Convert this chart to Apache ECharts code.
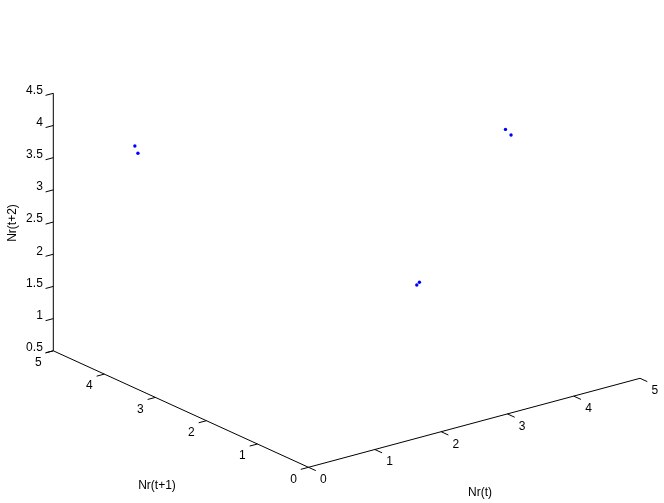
<!DOCTYPE html>
<html>
<head>
<meta charset="utf-8">
<script src="https://cdn.jsdelivr.net/npm/echarts@6/dist/echarts.min.js"></script>
<style>
html,body{margin:0;padding:0;background:#fff;}
#chart{width:664px;height:503px;}
</style>
</head>
<body>
<div id="chart"></div>
<script>
// ---- data ----
const nrT  = [0.83, 0.83, 4.46, 4.42, 3.61, 3.64];   // Nr(t)
const nrT1 = [4.48, 4.42, 3.62, 3.62, 0.83, 0.76];   // Nr(t+1)
const nrT2 = [3.64, 3.55, 0.83, 0.80, 4.45, 4.38];   // Nr(t+2)

const xTicks = [0, 1, 2, 3, 4, 5];
const yTicks = [0, 1, 2, 3, 4, 5];
const zTicks = [0.5, 1, 1.5, 2, 2.5, 3, 3.5, 4, 4.5];
const xTickLabels = ['0', '1', '2', '3', '4', '5'];
const yTickLabels = ['0', '1', '2', '3', '4', '5'];
const zTickLabels = ['0.5', '1', '1.5', '2', '2.5', '3', '3.5', '4', '4.5'];
const xRange = [0, 5];
const yRange = [0, 5];
const zRange = [0.5, 4.5];
const axisTitles = ['Nr(t)', 'Nr(t+1)', 'Nr(t+2)'];

// ---- projection of the 3D box (MATLAB-like default view) ----
const O = [308.5, 467.3];          // screen position of (xmin, ymin, zmin)
const EX = [331.5, -89.0];         // full x range
const EY = [-255.2, -116.5];       // full y range
const EZ = [0, -257.5];            // full z range
function proj(x, y, z) {
  const fx = (x - xRange[0]) / (xRange[1] - xRange[0]);
  const fy = (y - yRange[0]) / (yRange[1] - yRange[0]);
  const fz = (z - zRange[0]) / (zRange[1] - zRange[0]);
  return [O[0] + fx * EX[0] + fy * EY[0] + fz * EZ[0],
          O[1] + fx * EX[1] + fy * EY[1] + fz * EZ[1]];
}
function unit(v){ const l = Math.hypot(v[0], v[1]); return [v[0]/l, v[1]/l]; }
const TICK = 8;
const FONT = '12px "Liberation Sans", Arial, sans-serif';
const ux = unit(EX), uy = unit(EY);

// tick rows: [axis, value, labelIndex]
const tickRows = [];
xTicks.forEach((v, i) => tickRows.push([0, v, i]));
yTicks.forEach((v, i) => tickRows.push([1, v, i]));
zTicks.forEach((v, i) => tickRows.push([2, v, i]));

const points = nrT.map((v, i) => [v, nrT1[i], nrT2[i]]);

const chart = echarts.init(document.getElementById('chart'), null, {renderer: 'canvas'});
chart.setOption({
  backgroundColor: '#ffffff',
  animation: false,
  series: [
    {
      type: 'custom',
      coordinateSystem: 'none',
      silent: true,
      data: [[0], [1], [2]],
      renderItem: function (params, api) {
        const a = api.value(0);
        let p1, p2, title;
        if (a === 0) {
          p1 = proj(xRange[0], yRange[0], zRange[0]); p2 = proj(xRange[1], yRange[0], zRange[0]);
          title = {type: 'text', style: {text: axisTitles[0], x: 480, y: 493, align: 'center', verticalAlign: 'middle', font: FONT, fill: '#000'}};
        } else if (a === 1) {
          p1 = proj(xRange[0], yRange[0], zRange[0]); p2 = proj(xRange[0], yRange[1], zRange[0]);
          title = {type: 'text', style: {text: axisTitles[1], x: 157, y: 486, align: 'center', verticalAlign: 'middle', font: FONT, fill: '#000'}};
        } else {
          p1 = proj(xRange[0], yRange[1], zRange[0]); p2 = proj(xRange[0], yRange[1], zRange[1]);
          title = {type: 'text', x: 12.5, y: 223, rotation: Math.PI / 2,
                   style: {text: axisTitles[2], x: 0, y: 0, align: 'center', verticalAlign: 'middle', font: FONT, fill: '#000'}};
        }
        return {type: 'group', children: [
          {type: 'line', shape: {x1: p1[0], y1: p1[1], x2: p2[0], y2: p2[1]}, style: {stroke: '#000', lineWidth: 1}},
          title
        ]};
      }
    },
    {
      type: 'custom',
      coordinateSystem: 'none',
      silent: true,
      data: tickRows,
      renderItem: function (params, api) {
        const a = api.value(0), v = api.value(1), li = api.value(2);
        let base, dir, label, tx, ty, align;
        if (a === 0) {
          base = proj(v, yRange[0], zRange[0]);
          dir = [-uy[0], -uy[1]];
          label = xTickLabels[li];
          tx = base[0] + 14.8; ty = base[1] + 12.5; align = 'center';
        } else if (a === 1) {
          base = proj(xRange[0], v, zRange[0]);
          dir = [-ux[0], -ux[1]];
          label = yTickLabels[li];
          tx = base[0] - 15; ty = base[1] + 12; align = 'center';
        } else {
          base = proj(xRange[0], yRange[1], v);
          dir = [-ux[0], -ux[1]];
          label = zTickLabels[li];
          tx = base[0] - 10.5; ty = base[1] - 3; align = 'right';
        }
        return {type: 'group', children: [
          {type: 'line', shape: {x1: base[0], y1: base[1], x2: base[0] + dir[0] * TICK, y2: base[1] + dir[1] * TICK},
           style: {stroke: '#000', lineWidth: 1}},
          {type: 'text', style: {text: label, x: tx, y: ty, align: align, verticalAlign: 'middle', font: FONT, fill: '#000'}}
        ]};
      }
    },
    {
      type: 'custom',
      coordinateSystem: 'none',
      silent: true,
      data: points,
      renderItem: function (params, api) {
        const p = proj(api.value(0), api.value(1), api.value(2));
        return {type: 'circle', shape: {cx: p[0], cy: p[1], r: 1.7}, style: {fill: '#0000ff'}};
      }
    }
  ]
});
</script>
</body>
</html>
